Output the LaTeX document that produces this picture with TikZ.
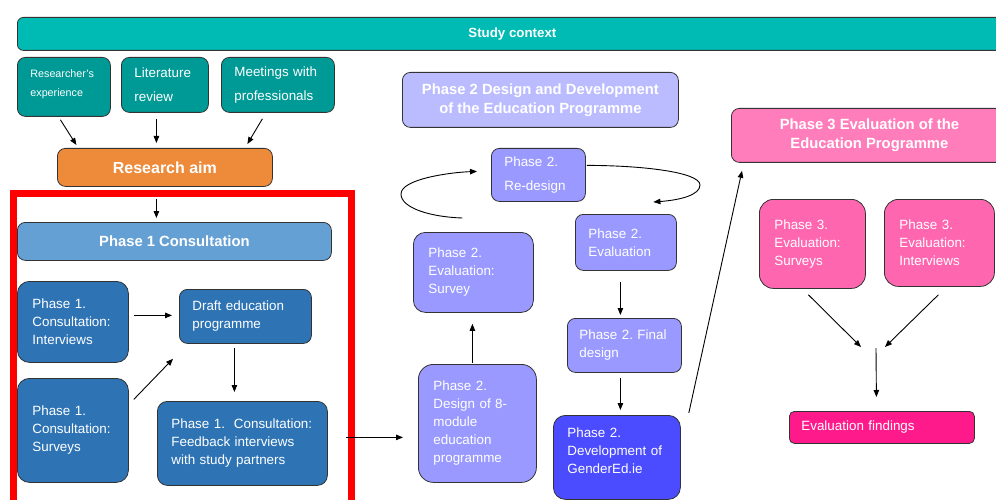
\documentclass[tikz,border=0pt]{standalone}
\usepackage{fontspec}
\setmainfont{Liberation Sans}
\usetikzlibrary{arrows.meta}
\frenchspacing

\definecolor{ctxteal}{HTML}{00BBB4}
\definecolor{srcteal}{HTML}{009A96}
\definecolor{aimorange}{HTML}{ED8B3B}
\definecolor{ponehead}{HTML}{65A0D5}
\definecolor{poneblue}{HTML}{2E74B5}
\definecolor{ptwohead}{HTML}{BBBBFF}
\definecolor{ptwobox}{HTML}{9999FF}
\definecolor{ptwodev}{HTML}{4B4BFF}
\definecolor{pthreehead}{HTML}{FF7DBB}
\definecolor{pthreebox}{HTML}{FF66B0}
\definecolor{findpink}{HTML}{FF1A8C}
\definecolor{framered}{HTML}{FF0000}

\begin{document}
\begin{tikzpicture}[x=1pt,y=-1pt,
  box/.style={draw=black!80, line width=0.8pt, rounded corners=8pt, text=white,
    anchor=north west, inner ysep=0pt, align=left,
    font=\fontsize{13.4}{18}\selectfont},
  headbox/.style={box, align=center, inner xsep=4pt,
    font=\bfseries\fontsize{14.8}{19}\selectfont},
  arr/.style={-{Triangle[length=7pt,width=5.5pt]}, line width=0.9pt},
]
\useasboundingbox (0,0) rectangle (996,500);
\clip (0,0) rectangle (996,500);

% ---------- study context and sources ----------
\node[headbox, fill=ctxteal, rounded corners=6pt, minimum width=990pt, minimum height=33pt,
      font=\bfseries\fontsize{13.3}{16}\selectfont] (ctx) at (17,17) {Study context};

\node[box, fill=srcteal, minimum width=93pt, minimum height=59pt, text width=67pt,
      inner xsep=13pt, font=\fontsize{10.75}{19}\selectfont] (resexp) at (17,57)
      {Researcher’s\\experience\\[-12pt]\mbox{}};
\node[box, fill=srcteal, minimum width=87pt, minimum height=55pt, text width=61pt,
      inner xsep=13pt, font=\fontsize{13.4}{24}\selectfont] (lit) at (121,57)
      {Literature\\review};
\node[box, fill=srcteal, minimum width=113pt, minimum height=55pt, text width=87pt,
      inner xsep=13pt, font=\fontsize{13.4}{24}\selectfont] (meet) at (221,57)
      {Meetings with\\professionals};

\node[headbox, fill=aimorange, minimum width=215pt, minimum height=38pt,
      font=\bfseries\fontsize{16}{19}\selectfont] (aim) at (57,148) {Research aim};

% ---------- phase 1 ----------
\draw[framered, line width=7pt] (13.5,193.5) rectangle (351.5,530);

\node[headbox, fill=ponehead, minimum width=314pt, minimum height=38pt] (ph1) at (17,222)
      {Phase 1 Consultation};
\node[box, fill=poneblue, rounded corners=12pt, minimum width=111pt, minimum height=81pt,
      text width=81pt, inner xsep=15pt] (p1int) at (17,281)
      {Phase 1.\\Consultation:\\Interviews};
\node[box, fill=poneblue, minimum width=132pt, minimum height=54pt,
      text width=106pt, inner xsep=13pt] (draft) at (179,289)
      {Draft education\\programme};
\node[box, fill=poneblue, rounded corners=12pt, minimum width=111pt, minimum height=104pt,
      text width=81pt, inner xsep=15pt] (p1sur) at (17,378)
      {Phase 1.\\Consultation:\\Surveys};
\node[box, fill=poneblue, rounded corners=10pt, minimum width=170pt, minimum height=84pt,
      text width=142pt, inner xsep=14pt] (feed) at (157,401)
      {Phase 1.\ \ Consultation:\\Feedback interviews\\with study partners};

% ---------- phase 2 ----------
\node[headbox, fill=ptwohead, minimum width=276pt, minimum height=55pt] (ph2) at (402,72)
      {Phase 2 Design and Development\\of the Education Programme};
\node[box, fill=ptwobox, minimum width=94pt, minimum height=53pt, text width=68pt,
      inner xsep=13pt, font=\fontsize{13.4}{24}\selectfont] (redesign) at (491,148)
      {Phase 2.\\Re-design};
\node[box, fill=ptwobox, minimum width=101pt, minimum height=56pt, text width=75pt,
      inner xsep=13pt] (p2eval) at (575,214)
      {Phase 2.\\Evaluation};
\node[box, fill=ptwobox, rounded corners=12pt, minimum width=120pt, minimum height=80pt,
      text width=90pt, inner xsep=15pt] (p2evsur) at (413,232)
      {Phase 2.\\Evaluation:\\Survey};
\node[box, fill=ptwobox, minimum width=114pt, minimum height=54pt, text width=90pt,
      inner xsep=12pt] (final) at (567,318)
      {Phase 2. Final\\design};
\node[box, fill=ptwobox, rounded corners=15pt, minimum width=118pt, minimum height=118pt,
      text width=88pt, inner xsep=15pt] (design8) at (418,364)
      {Phase 2.\\Design of 8-\\module\\education\\programme};
\node[box, fill=ptwodev, rounded corners=12pt, minimum width=127pt, minimum height=84pt,
      text width=99pt, inner xsep=14pt] (gender) at (553,415)
      {Phase 2.\\Development of\\GenderEd.ie\\[-4pt]\mbox{}};

% ---------- phase 3 ----------
\node[headbox, fill=pthreehead, minimum width=276pt, minimum height=54pt] (ph3) at (731,108)
      {Phase 3 Evaluation of the\\Education Programme};
\node[box, fill=pthreebox, rounded corners=14pt, minimum width=106pt, minimum height=89pt,
      text width=76pt, inner xsep=15pt] (p3sur) at (759,199)
      {Phase 3.\\Evaluation:\\Surveys};
\node[box, fill=pthreebox, rounded corners=14pt, minimum width=110pt, minimum height=87pt,
      text width=80pt, inner xsep=15pt] (p3int) at (884,199)
      {Phase 3.\\Evaluation:\\Interviews};
\node[box, fill=findpink, rounded corners=5pt, minimum width=185pt, minimum height=32pt,
      text width=161pt, inner xsep=12pt] (findings) at (789,411)
      {Evaluation findings};
\coordinate (join) at (873,347);

% ---------- connectors ----------
\draw[arr] ([shift={(-3.5,3)}]resexp.south) -- ([shift={(-88.5,-3)}]aim.north);
\draw[arr] ([shift={(-8.5,6)}]lit.south) -- ([shift={(-8.5,-5)}]aim.north);
\draw[arr] ([shift={(-15.5,6)}]meet.south) -- ([shift={(82.5,-4)}]aim.north);
\draw[arr] ([shift={(-8.5,12)}]aim.south) -- ([shift={(-18,-4)}]ph1.north);

\draw[arr] ([shift={(5,-6.5)}]p1int.east) -- ([shift={(-7,-1)}]draft.west);
\draw[arr] ([shift={(5,-31)}]p1sur.east) -- ([shift={(-6,15)}]draft.south west);
\draw[arr] ([shift={(-11,4)}]draft.south) -- ([shift={(-8,-9)}]feed.north);
\draw[arr] ([shift={(18,-6)}]feed.east) -- ([shift={(-15,14)}]design8.west);

\draw[arr] ([shift={(-5,-1)}]design8.north) -- ([shift={(-1,11)}]p2evsur.south);
\draw[arr] ([shift={(-11,-14)}]p2evsur.north)
    .. controls +(-32,-1) and +(0,14) .. (401,194)
    .. controls +(0,-15) and +(-27,1) .. ([shift={(-14,-3.5)}]redesign.west);
\draw[arr] ([shift={(1,-9.5)}]redesign.east)
    .. controls +(54,0) and +(0,-13) .. (700,185)
    .. controls +(0,10) and +(27,-2) .. ([shift={(27.5,-12)}]p2eval.north);
\draw[arr] ([shift={(-5.5,11)}]p2eval.south) -- ([shift={(-4,-3)}]final.north);
\draw[arr] ([shift={(-4,5)}]final.south) -- ([shift={(3.5,-5)}]gender.north);
\draw[arr] ([shift={(8,-2)}]gender.north east) -- ([shift={(11,8)}]ph3.south west);

\draw[arr] ([shift={(-4,6)}]p3sur.south) -- ([shift={(-12,0)}]join);
\draw[arr] ([shift={(-1,8)}]p3int.south) -- ([shift={(12,0)}]join);
\draw[arr] ([shift={(3,1)}]join) -- ([shift={(-5.5,-14)}]findings.north);
\end{tikzpicture}
\end{document}
